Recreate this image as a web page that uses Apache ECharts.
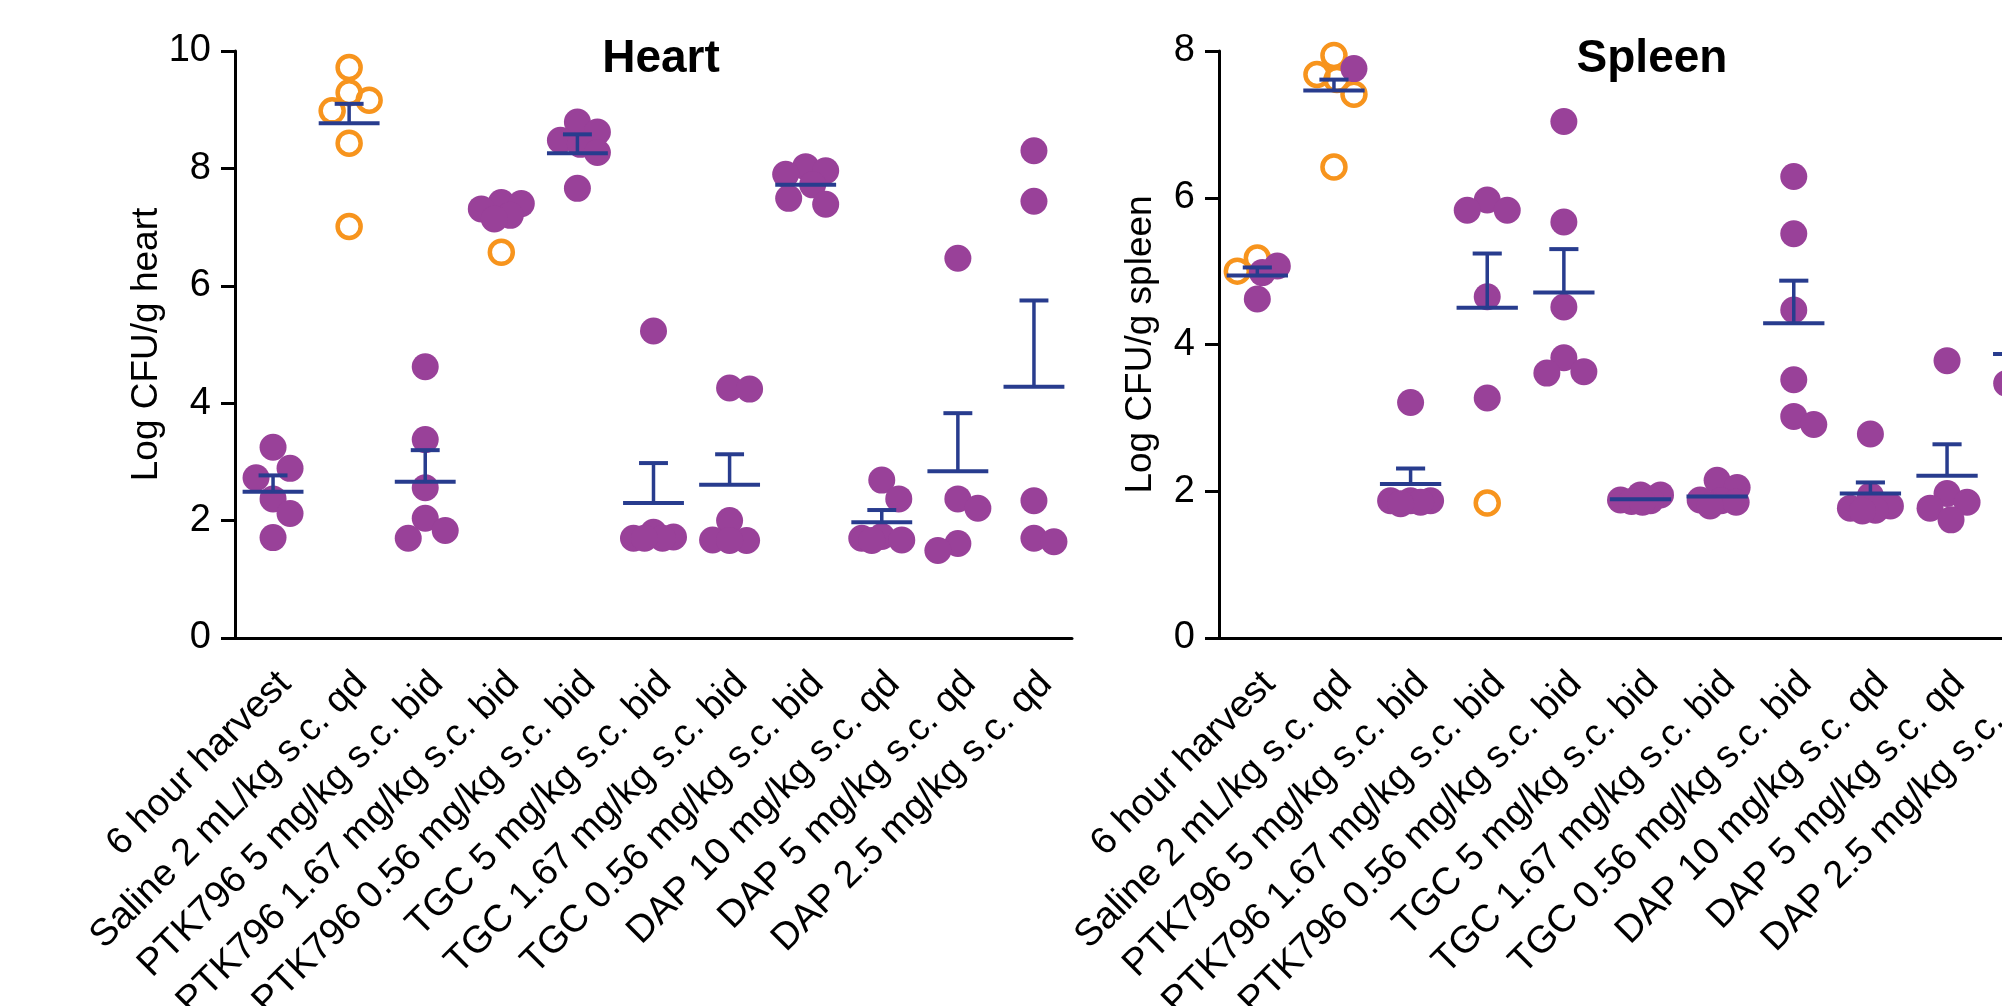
<!DOCTYPE html>
<html><head><meta charset="utf-8">
<script src="https://cdn.jsdelivr.net/npm/echarts@6/dist/echarts.min.js"></script>
<style>html,body{margin:0;padding:0;background:#fff}#c{width:2002px;height:1006px}</style>
</head><body><div id="c"></div>
<script>
const categories = ['6 hour harvest','Saline 2 mL/kg s.c. qd','PTK796 5 mg/kg s.c. bid','PTK796 1.67 mg/kg s.c. bid','PTK796 0.56 mg/kg s.c. bid','TGC 5 mg/kg s.c. bid','TGC 1.67 mg/kg s.c. bid','TGC 0.56 mg/kg s.c. bid','DAP 10 mg/kg s.c. qd','DAP 5 mg/kg s.c. qd','DAP 2.5 mg/kg s.c. qd'];

const heartTicks = [0, 2, 4, 6, 8, 10];
const spleenTicks = [0, 2, 4, 6, 8];

// Heart: filled (purple) and open (orange) animals per group
const heartFilled = [
  [3.25, 2.89, 2.73, 2.37, 2.12, 1.71],
  [],
  [4.62, 3.38, 2.56, 2.04, 1.83, 1.70],
  [7.42, 7.40, 7.31, 7.20, 7.14],
  [8.79, 8.62, 8.48, 8.41, 8.27, 7.66],
  [5.23, 1.80, 1.72, 1.70, 1.70, 1.70],
  [4.26, 4.24, 2.00, 1.67, 1.66, 1.66],
  [8.03, 7.96, 7.90, 7.72, 7.49, 7.39],
  [2.69, 2.37, 1.73, 1.70, 1.67, 1.66],
  [6.47, 2.37, 2.21, 1.61, 1.49],
  [8.30, 7.44, 2.34, 1.70, 1.64]
];
const heartOpen = [[], [9.72, 9.29, 9.16, 8.98, 8.43, 7.01], [], [6.57], [], [], [], [], [], [], []];
const heartMean = [2.49, 8.77, 2.66, null, 8.26, 2.30, 2.61, 7.72, 1.97, 2.84, 4.28];
const heartSem  = [0.28, 0.33, 0.54, null, 0.32, 0.68, 0.52, null, 0.21, 0.99, 1.47];

// Spleen
const spleenFilled = [
  [5.07, 4.98, 4.62],
  [7.76],
  [3.21, 1.87, 1.87, 1.87, 1.85, 1.83],
  [5.97, 5.83, 5.83, 4.65, 3.27],
  [7.04, 5.67, 4.51, 3.82, 3.63, 3.61],
  [1.95, 1.95, 1.88, 1.87, 1.86, 1.85],
  [2.15, 2.05, 1.88, 1.87, 1.85, 1.80],
  [6.29, 5.51, 4.47, 3.52, 3.02, 2.91],
  [2.78, 1.94, 1.80, 1.77, 1.74, 1.73],
  [3.78, 1.97, 1.85, 1.77, 1.61],
  [4.60, 4.35, 3.75, 3.47, 3.20]
];
const spleenOpen = [[5.18, 5.00], [7.94, 7.68, 7.61, 7.41, 6.42], [], [1.84], [], [], [], [], [], [], []];
const spleenMean = [4.94, 7.46, 2.10, 4.50, 4.71, 1.89, 1.93, 4.29, 1.97, 2.21, 3.87];
const spleenSem  = [0.11, 0.15, 0.21, 0.74, 0.59, null, null, 0.58, 0.15, 0.43, 0.50];

const PURPLE = '#994199', ORANGE = '#f7941d', BLUE = '#283c8e';
const FONT = '"Liberation Sans", Arial, Helvetica, sans-serif';

const G = [
  {left: 235, top: 51, width: 837, height: 587, max: 10},
  {left: 1219, top: 51, width: 843, height: 587, max: 8}
];

// beeswarm: from the top down, each point takes the nearest free slot; crowded rows are squeezed within +-cap px
function swarm(pts, pxPerUnit, T, step, cap) {
  const order = pts.map((p, i) => i).sort((a, b) => pts[b].v - pts[a].v);
  const placed = [];
  let lastSide = -1;
  order.forEach(i => {
    const y = pts[i].v * pxPerUnit;
    const minD = c => placed.reduce((m, p) => Math.min(m, Math.hypot(p.x - c, p.y - y)), Infinity);
    let chosen = null;
    const mags = [0];
    for (let m = step; m <= cap + 0.01; m += step) mags.push(m);
    for (const m of mags) {
      const cands = m === 0 ? [0] : (lastSide < 0 ? [m, -m] : [-m, m]);
      for (const c of cands) { if (minD(c) >= T) { chosen = c; break; } }
      if (chosen !== null) break;
    }
    if (chosen === null) {
      let best = -1;
      const cands = [0];
      for (let m = 1; m <= cap; m++) { if (lastSide < 0) cands.push(m, -m); else cands.push(-m, m); }
      cands.forEach(c => { const d = minD(c); if (d > best + 1e-6) { best = d; chosen = c; } });
    }
    pts[i].off = chosen;
    placed.push({x: chosen, y});
    if (chosen !== 0) lastSide = chosen > 0 ? 1 : -1;
  });
}

function buildPoints(filled, open, g) {
  const catW = g.width / categories.length;
  const pxPerUnit = g.height / g.max;
  const f = [], o = [];
  categories.forEach((c, i) => {
    const pts = filled[i].map(v => ({v, open: false})).concat(open[i].map(v => ({v, open: true})));
    swarm(pts, pxPerUnit, 22, 17, 20);
    pts.forEach(p => (p.open ? o : f).push([i + p.off / catW, p.v]));
  });
  return {f, o};
}

function meanSeries(xi, yi, means, sems) {
  const data = [];
  means.forEach((m, i) => { if (m != null) data.push([i, m, sems[i] == null ? 0 : sems[i]]); });
  return {
    type: 'custom', xAxisIndex: xi, yAxisIndex: yi, z: 10, data, encode: {x: 0, y: 1},
    renderItem(params, api) {
      const i = api.value(0), m = api.value(1), s = api.value(2);
      const p = api.coord([i, m]);
      const bw = api.size([1, 0])[0];
      const ch = [{type: 'line', shape: {x1: p[0] - bw * 0.4, y1: p[1], x2: p[0] + bw * 0.4, y2: p[1]},
                   style: {stroke: BLUE, lineWidth: 4}}];
      if (s > 0) {
        const q = api.coord([i, m + s]);
        ch.push({type: 'line', shape: {x1: p[0], y1: p[1], x2: p[0], y2: q[1]}, style: {stroke: BLUE, lineWidth: 3.5}});
        ch.push({type: 'line', shape: {x1: p[0] - bw * 0.19, y1: q[1], x2: p[0] + bw * 0.19, y2: q[1]}, style: {stroke: BLUE, lineWidth: 4}});
      }
      return {type: 'group', children: ch};
    }
  };
}

const hp = buildPoints(heartFilled, heartOpen, G[0]);
const sp = buildPoints(spleenFilled, spleenOpen, G[1]);

function catAxis(gi) {
  return {
    type: 'category', gridIndex: gi, data: categories, boundaryGap: true,
    axisLine: {onZero: false, lineStyle: {color: '#000', width: 3}},
    axisTick: {alignWithLabel: true, length: 14, lineStyle: {color: '#000', width: 3}},
    axisLabel: {interval: 0, rotate: 45, margin: 28, fontSize: 38, lineHeight: 34, verticalAlign: 'top',
                color: '#000', fontFamily: FONT},
    splitLine: {show: false}
  };
}
function valAxisX(gi) {
  return {type: 'value', gridIndex: gi, min: -0.5, max: 10.5, show: false};
}
function yAxis(gi, ticks, name) {
  return {
    type: 'value', gridIndex: gi, min: ticks[0], max: ticks[ticks.length - 1], interval: ticks[1] - ticks[0],
    name, nameLocation: 'middle', nameGap: 60,
    nameTextStyle: {fontSize: 37, color: '#000', fontFamily: FONT},
    axisLine: {show: true, onZero: false, lineStyle: {color: '#000', width: 3}},
    axisTick: {show: true, length: 14, lineStyle: {color: '#000', width: 3}},
    axisLabel: {fontSize: 38, margin: 24, color: '#000', fontFamily: FONT},
    splitLine: {show: false}
  };
}

const chart = echarts.init(document.getElementById('c'), null, {renderer: 'canvas'});
chart.setOption({
  animation: false,
  backgroundColor: '#fff',
  grid: G.map(g => ({left: g.left, top: g.top, width: g.width, height: g.height, containLabel: false, outerBoundsMode: 'none'})),
  xAxis: [catAxis(0), valAxisX(0), catAxis(1), valAxisX(1)],
  yAxis: [yAxis(0, heartTicks, 'Log CFU/g heart'), yAxis(1, spleenTicks, 'Log CFU/g spleen')],
  graphic: [
    {type: 'text', x: 661, y: 59, style: {text: 'Heart', font: 'bold 46px ' + FONT, fill: '#000',
      align: 'center', verticalAlign: 'middle', textAlign: 'center', textVerticalAlign: 'middle'}},
    {type: 'text', x: 1652, y: 59, style: {text: 'Spleen', font: 'bold 46px ' + FONT, fill: '#000',
      align: 'center', verticalAlign: 'middle', textAlign: 'center', textVerticalAlign: 'middle'}}
  ],
  series: [
    {type: 'scatter', xAxisIndex: 1, yAxisIndex: 0, z: 2, data: hp.o, symbol: 'circle', symbolSize: 23,
     itemStyle: {color: 'rgba(255,255,255,0)', borderColor: ORANGE, borderWidth: 4.5, opacity: 1}},
    {type: 'scatter', xAxisIndex: 1, yAxisIndex: 0, z: 3, data: hp.f, symbol: 'circle', symbolSize: 27,
     itemStyle: {color: PURPLE, opacity: 1}},
    meanSeries(0, 0, heartMean, heartSem),
    {type: 'scatter', xAxisIndex: 3, yAxisIndex: 1, z: 2, data: sp.o, symbol: 'circle', symbolSize: 23,
     itemStyle: {color: 'rgba(255,255,255,0)', borderColor: ORANGE, borderWidth: 4.5, opacity: 1}},
    {type: 'scatter', xAxisIndex: 3, yAxisIndex: 1, z: 3, data: sp.f, symbol: 'circle', symbolSize: 27,
     itemStyle: {color: PURPLE, opacity: 1}},
    meanSeries(2, 1, spleenMean, spleenSem)
  ]
});
</script></body></html>
